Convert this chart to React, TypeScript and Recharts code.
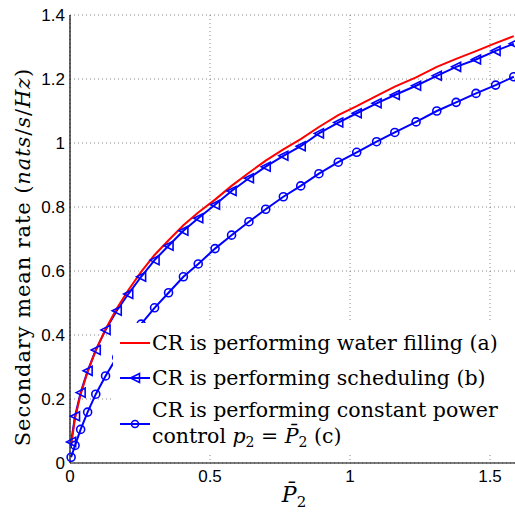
import { LineChart, Line, XAxis, YAxis, CartesianGrid, Legend, Label } from "recharts";

// average power constraint P2 (x values shared by all curves)
const power = [
  0.004, 0.018, 0.038, 0.063, 0.092, 0.127, 0.167, 0.208, 0.254, 0.302,
  0.352, 0.405, 0.458, 0.518, 0.577, 0.639, 0.699, 0.762, 0.824, 0.889,
  0.958, 1.024, 1.095, 1.16, 1.236, 1.31, 1.379, 1.45, 1.52, 1.585,
];

const waterFilling = [
  0.055, 0.14, 0.215, 0.285, 0.352, 0.418, 0.483, 0.54, 0.597, 0.65,
  0.696, 0.743, 0.783, 0.823, 0.866, 0.907, 0.945, 0.98, 1.012, 1.05,
  1.087, 1.115, 1.147, 1.176, 1.205, 1.238, 1.263, 1.287, 1.312, 1.334,
];

const scheduling = [
  0.066, 0.146, 0.22, 0.288, 0.353, 0.416, 0.476, 0.528, 0.582, 0.634,
  0.679, 0.726, 0.765, 0.807, 0.85, 0.89, 0.926, 0.96, 0.99, 1.03,
  1.064, 1.093, 1.124, 1.15, 1.179, 1.21, 1.238, 1.261, 1.288, 1.31,
];

const constantPower = [
  0.018, 0.055, 0.105, 0.159, 0.215, 0.272, 0.33, 0.385, 0.434, 0.485,
  0.532, 0.582, 0.622, 0.67, 0.712, 0.754, 0.793, 0.832, 0.866, 0.904,
  0.94, 0.971, 1.004, 1.033, 1.066, 1.1, 1.127, 1.155, 1.181, 1.207,
];

const xTicks = [0, 0.5, 1, 1.5];
const yTicks = [0, 0.2, 0.4, 0.6, 0.8, 1, 1.2, 1.4];

const legendNames = [
  "CR is performing water filling (a)",
  "CR is performing scheduling (b)",
  "CR is performing constant power",
];

const data = power.map((p, i) => ({
  p,
  wf: waterFilling[i],
  sch: scheduling[i],
  cp: constantPower[i],
}));

const BLUE = "#0000ff";
const RED = "#ff0000";
const serif = "'DejaVu Serif', serif";
const sans = "'Liberation Sans', Arial, Roboto, sans-serif";

function TriangleDot(props: any) {
  const { cx, cy, index } = props;
  if (cx == null || cy == null) return null;
  const s = 4.5;
  return (
    <polygon
      key={index}
      points={`${cx - s},${cy} ${cx + s},${cy - s} ${cx + s},${cy + s}`}
      fill="none"
      stroke={BLUE}
      strokeWidth={1.6}
    />
  );
}

function CircleDot(props: any) {
  const { cx, cy, index } = props;
  if (cx == null || cy == null) return null;
  return <circle key={index} cx={cx} cy={cy} r={4} fill="none" stroke={BLUE} strokeWidth={1.6} />;
}

function LegendIcon({ kind }: { kind: "line" | "tri" | "circ" }) {
  const color = kind === "line" ? RED : BLUE;
  return (
    <svg width={34} height={14} style={{ flex: "none", display: "block" }}>
      <line x1={2} y1={7} x2={32} y2={7} stroke={color} strokeWidth={2} />
      {kind === "tri" && (
        <polygon points="12.5,7 21.5,2.5 21.5,11.5" fill="none" stroke={BLUE} strokeWidth={1.6} />
      )}
      {kind === "circ" && <circle cx={17} cy={7} r={3.5} fill="none" stroke={BLUE} strokeWidth={1.6} />}
    </svg>
  );
}

function LegendBox() {
  const text = { fontFamily: serif, fontSize: 20.5, color: "#000", whiteSpace: "nowrap" as const };
  const sub = { fontSize: 14, verticalAlign: "-4px", lineHeight: 0 };
  return (
    <div style={{ background: "#fff", padding: "3px 0 4px 5px", width: 420 }}>
      <div style={{ display: "flex", alignItems: "center", height: 34 }}>
        <LegendIcon kind="line" />
        <span style={text}>{legendNames[0]}</span>
      </div>
      <div style={{ display: "flex", alignItems: "center", height: 35 }}>
        <LegendIcon kind="tri" />
        <span style={text}>{legendNames[1]}</span>
      </div>
      <div style={{ display: "flex", alignItems: "flex-start", height: 54, paddingTop: 2 }}>
        <div style={{ marginTop: 20 }}>
          <LegendIcon kind="circ" />
        </div>
        <div style={{ ...text, lineHeight: "26px" }}>
          <div>{legendNames[2]}</div>
          <div>
            control <i>p</i>
            <span style={sub}>2</span> = <i>P̄</i>
            <span style={sub}>2</span> (c)
          </div>
        </div>
      </div>
    </div>
  );
}

function YTitle(props: any) {
  const { viewBox } = props;
  const cx = viewBox.x + 23;
  const cy = viewBox.y + viewBox.height / 2 + 18;
  return (
    <text
      x={cx}
      y={cy}
      transform={`rotate(-90 ${cx} ${cy})`}
      textAnchor="middle"
      dominantBaseline="central"
      fontFamily={serif}
      fontSize={21}
      letterSpacing={0.9}
      fill="#000"
    >
      Secondary mean rate (<tspan fontStyle="italic">nats</tspan>/<tspan fontStyle="italic">s</tspan>/<tspan fontStyle="italic">Hz</tspan>)
    </text>
  );
}

function XTitle(props: any) {
  const { viewBox } = props;
  const cx = viewBox.x + viewBox.width / 2;
  const cy = viewBox.y + 39;
  return (
    <text x={cx} y={cy} textAnchor="middle" fontFamily={serif} fontSize={22} fill="#000">
      <tspan fontStyle="italic">P̄</tspan>
      <tspan fontSize={15} dy={5}>2</tspan>
    </text>
  );
}

export default function App() {
  return (
    <div
      style={{
        position: "absolute",
        left: 0,
        top: 0,
        width: 515,
        height: 512,
        overflow: "hidden",
        background: "#fff",
      }}
    >
      <LineChart
        width={540}
        height={512}
        data={data}
        margin={{ top: 15, right: 22, bottom: 0, left: 0 }}
      >
        <CartesianGrid stroke="#888" strokeDasharray="1 3" strokeWidth={1} />
        <XAxis
          dataKey="p"
          type="number"
          domain={[0, 1.6]}
          ticks={xTicks}
          tickFormatter={(v: number) => String(v)}
          height={49}
          axisLine={{ stroke: "#000", strokeWidth: 1.2 }}
          tickLine={false}
          tickSize={0}
          tickMargin={7}
          tick={{ fill: "#000", fontFamily: sans, fontSize: 17 }}
        >
          <Label content={<XTitle />} />
        </XAxis>
        <XAxis
          xAxisId="ticksIn"
          dataKey="p"
          type="number"
          domain={[0, 1.6]}
          ticks={xTicks}
          height={0}
          mirror
          axisLine={false}
          tick={false}
          tickSize={4}
          tickLine={{ stroke: "#000" }}
        />
        <XAxis
          xAxisId="top"
          orientation="top"
          dataKey="p"
          type="number"
          domain={[0, 1.6]}
          ticks={xTicks}
          height={0}
          mirror
          tick={false}
          tickSize={4}
          axisLine={{ stroke: "#000", strokeWidth: 1.2 }}
          tickLine={{ stroke: "#000" }}
        />
        <YAxis
          type="number"
          domain={[0, 1.4]}
          ticks={yTicks}
          tickFormatter={(v: number) => String(v)}
          width={70}
          axisLine={{ stroke: "#000", strokeWidth: 1.2 }}
          tickLine={false}
          tickSize={0}
          tickMargin={5}
          tick={{ fill: "#000", fontFamily: sans, fontSize: 17 }}
        >
          <Label content={<YTitle />} />
        </YAxis>
        <YAxis
          yAxisId="ticksIn"
          type="number"
          domain={[0, 1.4]}
          ticks={yTicks}
          width={0}
          mirror
          axisLine={false}
          tick={false}
          tickSize={4}
          tickLine={{ stroke: "#000" }}
        />
        <Line
          dataKey="cp"
          stroke={BLUE}
          strokeWidth={2}
          dot={<CircleDot />}
          activeDot={false}
          isAnimationActive={false}
        />
        <Line
          dataKey="sch"
          stroke={BLUE}
          strokeWidth={2}
          dot={<TriangleDot />}
          activeDot={false}
          isAnimationActive={false}
        />
        <Line
          dataKey="wf"
          stroke={RED}
          strokeWidth={2}
          dot={false}
          activeDot={false}
          isAnimationActive={false}
        />
        <Legend
          layout="vertical"
          align="center"
          verticalAlign="middle"
          content={<LegendBox />}
          wrapperStyle={{ left: 113, top: 323, width: 420 }}
        />
      </LineChart>
    </div>
  );
}
